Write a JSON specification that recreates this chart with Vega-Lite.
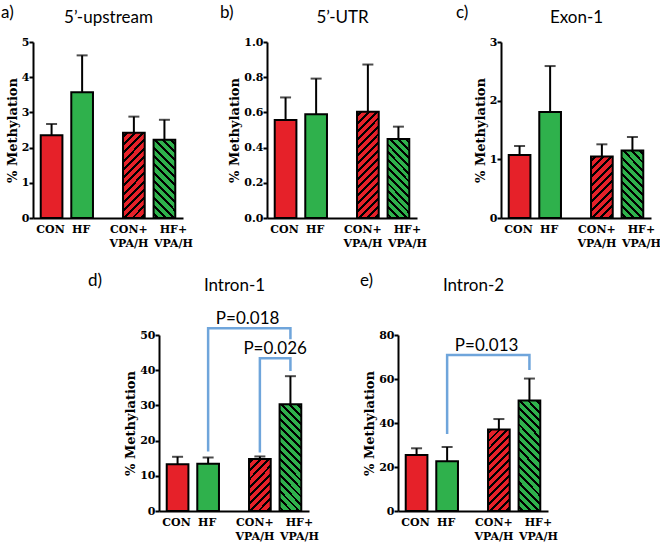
{
"$schema":"https://vega.github.io/schema/vega-lite/v6.json",
"padding":{"top":3,"left":1,"right":0,"bottom":0},
"config":{
 "view":{"stroke":null},
 "title":{"font":"Lato","fontSize":17,"fontWeight":"normal","color":"#000","anchor":"start","frame":"group"},
 "axis":{"grid":false,"domainColor":"#000","domainWidth":2,"tickColor":"#000","tickWidth":2,"tickSize":4,"labelFont":"DejaVu Serif","labelFontWeight":"bold","labelFontSize":11,"labelColor":"#000","labelPadding":0,"labelOverlap":false,"titleFont":"DejaVu Serif","titleFontWeight":"bold","titleFontSize":13,"titleColor":"#000","titlePadding":2}
},
"datasets":{
 "a":[{"treat":"none","diet":"CON","label":"CON","m":2.35,"u":2.67},{"treat":"none","diet":"HF","label":"HF","m":3.57,"u":4.62},{"treat":"VPA/H","diet":"CON","label":"CON+\nVPA/H","m":2.42,"u":2.88},{"treat":"VPA/H","diet":"HF","label":"HF+\nVPA/H","m":2.22,"u":2.79}],
 "b":[{"treat":"none","diet":"CON","label":"CON","m":0.557,"u":0.685},{"treat":"none","diet":"HF","label":"HF","m":0.589,"u":0.792},{"treat":"VPA/H","diet":"CON","label":"CON+\nVPA/H","m":0.604,"u":0.872},{"treat":"VPA/H","diet":"HF","label":"HF+\nVPA/H","m":0.449,"u":0.519}],
 "c":[{"treat":"none","diet":"CON","label":"CON","m":1.075,"u":1.228},{"treat":"none","diet":"HF","label":"HF","m":1.805,"u":2.59},{"treat":"VPA/H","diet":"CON","label":"CON+\nVPA/H","m":1.047,"u":1.256},{"treat":"VPA/H","diet":"HF","label":"HF+\nVPA/H","m":1.149,"u":1.381}],
 "d":[{"treat":"none","diet":"CON","label":"CON","m":13.3,"u":15.4},{"treat":"none","diet":"HF","label":"HF","m":13.4,"u":15.2},{"treat":"VPA/H","diet":"CON","label":"CON+\nVPA/H","m":14.8,"u":15.5},{"treat":"VPA/H","diet":"HF","label":"HF+\nVPA/H","m":30.3,"u":38.3}],
 "e":[{"treat":"none","diet":"CON","label":"CON","m":25.5,"u":28.5},{"treat":"none","diet":"HF","label":"HF","m":22.6,"u":29.1},{"treat":"VPA/H","diet":"CON","label":"CON+\nVPA/H","m":37.0,"u":41.8},{"treat":"VPA/H","diet":"HF","label":"HF+\nVPA/H","m":50.2,"u":60.2}],
 "dbr":[{"pair":"p1","treat":"none","diet":"HF","v":16.9,"o":1},{"pair":"p1","treat":"none","diet":"HF","v":51.9,"o":2},{"pair":"p1","treat":"VPA/H","diet":"HF","v":51.9,"o":3},{"pair":"p1","treat":"VPA/H","diet":"HF","v":48.8,"o":4},{"pair":"p2","treat":"VPA/H","diet":"CON","v":16.6,"o":1},{"pair":"p2","treat":"VPA/H","diet":"CON","v":43.4,"o":2},{"pair":"p2","treat":"VPA/H","diet":"HF","v":43.4,"o":3},{"pair":"p2","treat":"VPA/H","diet":"HF","v":39.8,"o":4}],
 "ebr":[{"pair":"p1","treat":"none","diet":"HF","v":35,"o":1},{"pair":"p1","treat":"none","diet":"HF","v":70.9,"o":2},{"pair":"p1","treat":"VPA/H","diet":"HF","v":70.9,"o":3},{"pair":"p1","treat":"VPA/H","diet":"HF","v":64.1,"o":4}],
 "dp":[{"p":"P=0.018","treat":"VPA/H","v":51.9,"span":"across"},{"p":"P=0.026","treat":"VPA/H","v":43.4,"span":"within"}],
 "ep":[{"p":"P=0.013","treat":"VPA/H","v":70.9,"span":"across"}]
},
"spacing":22,
"center":false,
"vconcat":[
{"hconcat":[
 {"title":{"text":"a)","dx":-32,"offset":-13.5},"width":150,"height":176,"data":{"name":"a"},"resolve":{"axis":{"x":"independent"}},
  "layer":[
  {"layer":[
   {"transform":[{"filter":"datum.treat=='none'"}],"mark":{"type":"bar","stroke":"#000","strokeWidth":2},
    "encoding":{"x":{"field":"treat","type":"nominal","scale":{"domain":["none","VPA/H"],"paddingInner":0.2575,"paddingOuter":0.04},"axis":{"orient":"bottom","title":null,"labels":false,"ticks":false}},
     "xOffset":{"field":"diet","type":"nominal","scale":{"domain":["CON","HF"],"paddingInner":0.29,"paddingOuter":0.145}},
     "y":{"field":"m","type":"quantitative","scale":{"domain":[0,5],"nice":false},"axis":{"title":"% Methylation","values":[0,1,2,3,4,5]}},
     "color":{"field":"diet","type":"nominal","scale":{"domain":["CON","HF"],"range":["#e62129","#2fb14c"]},"legend":null}}},
   {"transform":[{"filter":"datum.treat=='VPA/H' && datum.diet=='CON'"}],"mark":{"type":"bar","stroke":"#000","strokeWidth":2,"fill":{"gradient":"linear","x1":0,"y1":0,"x2":0.306,"y2":1.18,"stops":[
{"offset":0.025,"color":"#e62129"},{"offset":0.025,"color":"#000"},{"offset":0.052,"color":"#000"},{"offset":0.052,"color":"#e62129"},
{"offset":0.102,"color":"#e62129"},{"offset":0.102,"color":"#000"},{"offset":0.129,"color":"#000"},{"offset":0.129,"color":"#e62129"},
{"offset":0.178,"color":"#e62129"},{"offset":0.178,"color":"#000"},{"offset":0.206,"color":"#000"},{"offset":0.206,"color":"#e62129"},
{"offset":0.255,"color":"#e62129"},{"offset":0.255,"color":"#000"},{"offset":0.283,"color":"#000"},{"offset":0.283,"color":"#e62129"},
{"offset":0.332,"color":"#e62129"},{"offset":0.332,"color":"#000"},{"offset":0.36,"color":"#000"},{"offset":0.36,"color":"#e62129"},
{"offset":0.409,"color":"#e62129"},{"offset":0.409,"color":"#000"},{"offset":0.437,"color":"#000"},{"offset":0.437,"color":"#e62129"},
{"offset":0.486,"color":"#e62129"},{"offset":0.486,"color":"#000"},{"offset":0.514,"color":"#000"},{"offset":0.514,"color":"#e62129"},
{"offset":0.563,"color":"#e62129"},{"offset":0.563,"color":"#000"},{"offset":0.591,"color":"#000"},{"offset":0.591,"color":"#e62129"},
{"offset":0.64,"color":"#e62129"},{"offset":0.64,"color":"#000"},{"offset":0.668,"color":"#000"},{"offset":0.668,"color":"#e62129"},
{"offset":0.717,"color":"#e62129"},{"offset":0.717,"color":"#000"},{"offset":0.745,"color":"#000"},{"offset":0.745,"color":"#e62129"},
{"offset":0.794,"color":"#e62129"},{"offset":0.794,"color":"#000"},{"offset":0.822,"color":"#000"},{"offset":0.822,"color":"#e62129"},
{"offset":0.871,"color":"#e62129"},{"offset":0.871,"color":"#000"},{"offset":0.898,"color":"#000"},{"offset":0.898,"color":"#e62129"},
{"offset":0.948,"color":"#e62129"},{"offset":0.948,"color":"#000"},{"offset":0.975,"color":"#000"},{"offset":0.975,"color":"#e62129"}]}},
    "encoding":{"x":{"field":"treat","type":"nominal","axis":{"orient":"bottom","title":null,"labels":false,"ticks":false}},"xOffset":{"field":"diet","type":"nominal"},"y":{"field":"m","type":"quantitative","axis":{"title":"% Methylation","values":[0,1,2,3,4,5]}}}},
   {"transform":[{"filter":"datum.treat=='VPA/H' && datum.diet=='HF'"}],"mark":{"type":"bar","stroke":"#000","strokeWidth":2,"fill":{"gradient":"linear","x1":1,"y1":0,"x2":0.665,"y2":1.188,"stops":[
{"offset":0.027,"color":"#2fb14c"},{"offset":0.027,"color":"#000"},{"offset":0.057,"color":"#000"},{"offset":0.057,"color":"#2fb14c"},
{"offset":0.11,"color":"#2fb14c"},{"offset":0.11,"color":"#000"},{"offset":0.14,"color":"#000"},{"offset":0.14,"color":"#2fb14c"},
{"offset":0.193,"color":"#2fb14c"},{"offset":0.193,"color":"#000"},{"offset":0.223,"color":"#000"},{"offset":0.223,"color":"#2fb14c"},
{"offset":0.277,"color":"#2fb14c"},{"offset":0.277,"color":"#000"},{"offset":0.307,"color":"#000"},{"offset":0.307,"color":"#2fb14c"},
{"offset":0.36,"color":"#2fb14c"},{"offset":0.36,"color":"#000"},{"offset":0.39,"color":"#000"},{"offset":0.39,"color":"#2fb14c"},
{"offset":0.443,"color":"#2fb14c"},{"offset":0.443,"color":"#000"},{"offset":0.473,"color":"#000"},{"offset":0.473,"color":"#2fb14c"},
{"offset":0.527,"color":"#2fb14c"},{"offset":0.527,"color":"#000"},{"offset":0.557,"color":"#000"},{"offset":0.557,"color":"#2fb14c"},
{"offset":0.61,"color":"#2fb14c"},{"offset":0.61,"color":"#000"},{"offset":0.64,"color":"#000"},{"offset":0.64,"color":"#2fb14c"},
{"offset":0.693,"color":"#2fb14c"},{"offset":0.693,"color":"#000"},{"offset":0.723,"color":"#000"},{"offset":0.723,"color":"#2fb14c"},
{"offset":0.777,"color":"#2fb14c"},{"offset":0.777,"color":"#000"},{"offset":0.807,"color":"#000"},{"offset":0.807,"color":"#2fb14c"},
{"offset":0.86,"color":"#2fb14c"},{"offset":0.86,"color":"#000"},{"offset":0.89,"color":"#000"},{"offset":0.89,"color":"#2fb14c"},
{"offset":0.943,"color":"#2fb14c"},{"offset":0.943,"color":"#000"},{"offset":0.973,"color":"#000"},{"offset":0.973,"color":"#2fb14c"}]}},
    "encoding":{"x":{"field":"treat","type":"nominal","axis":{"orient":"bottom","title":null,"labels":false,"ticks":false}},"xOffset":{"field":"diet","type":"nominal"},"y":{"field":"m","type":"quantitative","axis":{"title":"% Methylation","values":[0,1,2,3,4,5]}}}},
   {"mark":{"type":"rule","strokeWidth":2,"color":"#000"},"encoding":{"x":{"field":"treat","type":"nominal","axis":{"orient":"bottom","title":null,"labels":false,"ticks":false}},"xOffset":{"field":"diet","type":"nominal"},"y":{"field":"m","type":"quantitative","axis":{"title":"% Methylation","values":[0,1,2,3,4,5]}},"y2":{"field":"u"}}},
   {"mark":{"type":"tick","thickness":2,"size":11,"color":"#000"},"encoding":{"x":{"field":"treat","type":"nominal","axis":{"orient":"bottom","title":null,"labels":false,"ticks":false}},"xOffset":{"field":"diet","type":"nominal"},"y":{"field":"u","type":"quantitative","axis":{"title":"% Methylation","values":[0,1,2,3,4,5]}}}},
   {"transform":[{"filter":"datum.treat=='none'"}],"mark":{"type":"text","baseline":"top","dy":6,"dx":-1,"lineBreak":"\n","font":"DejaVu Serif","fontWeight":"bold","fontSize":11,"lineHeight":14,"color":"#000"},
    "encoding":{"x":{"field":"treat","type":"nominal","axis":{"orient":"bottom","title":null,"labels":false,"ticks":false}},"xOffset":{"field":"diet","type":"nominal"},"y":{"datum":0,"type":"quantitative","axis":{"title":"% Methylation","values":[0,1,2,3,4,5]}},"text":{"field":"label"}}},
   {"transform":[{"filter":"datum.treat=='VPA/H' && datum.diet=='CON'"}],"mark":{"type":"text","baseline":"top","dy":6,"dx":-5,"lineBreak":"\n","font":"DejaVu Serif","fontWeight":"bold","fontSize":11,"lineHeight":14,"color":"#000"},
    "encoding":{"x":{"field":"treat","type":"nominal","axis":{"orient":"bottom","title":null,"labels":false,"ticks":false}},"xOffset":{"field":"diet","type":"nominal"},"y":{"datum":0,"type":"quantitative","axis":{"title":"% Methylation","values":[0,1,2,3,4,5]}},"text":{"field":"label"}}},
   {"transform":[{"filter":"datum.treat=='VPA/H' && datum.diet=='HF'"}],"mark":{"type":"text","baseline":"top","dy":6,"dx":9,"lineBreak":"\n","font":"DejaVu Serif","fontWeight":"bold","fontSize":11,"lineHeight":14,"color":"#000"},
    "encoding":{"x":{"field":"treat","type":"nominal","axis":{"orient":"bottom","title":null,"labels":false,"ticks":false}},"xOffset":{"field":"diet","type":"nominal"},"y":{"datum":0,"type":"quantitative","axis":{"title":"% Methylation","values":[0,1,2,3,4,5]}},"text":{"field":"label"}}}
  ]},
  {"mark":{"type":"text","opacity":0},"encoding":{"x":{"field":"treat","type":"nominal","axis":{"orient":"top","title":"5’-upstream","labels":false,"ticks":false,"domain":false,"titlePadding":16,"titleFont":"Lato","titleFontSize":17,"titleFontWeight":"normal"}},"text":{"value":""}}}
  ]},
 {"title":{"text":"b)","dx":-47,"offset":-13.5},"width":150,"height":176,"data":{"name":"b"},"resolve":{"axis":{"x":"independent"}},
  "layer":[
  {"layer":[
   {"transform":[{"filter":"datum.treat=='none'"}],"mark":{"type":"bar","stroke":"#000","strokeWidth":2},
    "encoding":{"x":{"field":"treat","type":"nominal","scale":{"domain":["none","VPA/H"],"paddingInner":0.2575,"paddingOuter":0.04},"axis":{"orient":"bottom","title":null,"labels":false,"ticks":false}},
     "xOffset":{"field":"diet","type":"nominal","scale":{"domain":["CON","HF"],"paddingInner":0.29,"paddingOuter":0.145}},
     "y":{"field":"m","type":"quantitative","scale":{"domain":[0,1],"nice":false},"axis":{"title":"% Methylation","values":[0,0.2,0.4,0.6,0.8,1],"format":".1f"}},
     "color":{"field":"diet","type":"nominal","scale":{"domain":["CON","HF"],"range":["#e62129","#2fb14c"]},"legend":null}}},
   {"transform":[{"filter":"datum.treat=='VPA/H' && datum.diet=='CON'"}],"mark":{"type":"bar","stroke":"#000","strokeWidth":2,"fill":{"gradient":"linear","x1":0,"y1":0,"x2":0.239,"y2":1.157,"stops":[
{"offset":0.02,"color":"#e62129"},{"offset":0.02,"color":"#000"},{"offset":0.043,"color":"#000"},{"offset":0.043,"color":"#e62129"},
{"offset":0.083,"color":"#e62129"},{"offset":0.083,"color":"#000"},{"offset":0.105,"color":"#000"},{"offset":0.105,"color":"#e62129"},
{"offset":0.145,"color":"#e62129"},{"offset":0.145,"color":"#000"},{"offset":0.168,"color":"#000"},{"offset":0.168,"color":"#e62129"},
{"offset":0.208,"color":"#e62129"},{"offset":0.208,"color":"#000"},{"offset":0.23,"color":"#000"},{"offset":0.23,"color":"#e62129"},
{"offset":0.27,"color":"#e62129"},{"offset":0.27,"color":"#000"},{"offset":0.293,"color":"#000"},{"offset":0.293,"color":"#e62129"},
{"offset":0.333,"color":"#e62129"},{"offset":0.333,"color":"#000"},{"offset":0.355,"color":"#000"},{"offset":0.355,"color":"#e62129"},
{"offset":0.395,"color":"#e62129"},{"offset":0.395,"color":"#000"},{"offset":0.418,"color":"#000"},{"offset":0.418,"color":"#e62129"},
{"offset":0.458,"color":"#e62129"},{"offset":0.458,"color":"#000"},{"offset":0.48,"color":"#000"},{"offset":0.48,"color":"#e62129"},
{"offset":0.52,"color":"#e62129"},{"offset":0.52,"color":"#000"},{"offset":0.543,"color":"#000"},{"offset":0.543,"color":"#e62129"},
{"offset":0.583,"color":"#e62129"},{"offset":0.583,"color":"#000"},{"offset":0.605,"color":"#000"},{"offset":0.605,"color":"#e62129"},
{"offset":0.645,"color":"#e62129"},{"offset":0.645,"color":"#000"},{"offset":0.668,"color":"#000"},{"offset":0.668,"color":"#e62129"},
{"offset":0.708,"color":"#e62129"},{"offset":0.708,"color":"#000"},{"offset":0.73,"color":"#000"},{"offset":0.73,"color":"#e62129"},
{"offset":0.77,"color":"#e62129"},{"offset":0.77,"color":"#000"},{"offset":0.793,"color":"#000"},{"offset":0.793,"color":"#e62129"},
{"offset":0.833,"color":"#e62129"},{"offset":0.833,"color":"#000"},{"offset":0.855,"color":"#000"},{"offset":0.855,"color":"#e62129"},
{"offset":0.895,"color":"#e62129"},{"offset":0.895,"color":"#000"},{"offset":0.918,"color":"#000"},{"offset":0.918,"color":"#e62129"},
{"offset":0.958,"color":"#e62129"},{"offset":0.958,"color":"#000"},{"offset":0.98,"color":"#000"},{"offset":0.98,"color":"#e62129"}]}},
    "encoding":{"x":{"field":"treat","type":"nominal","axis":{"orient":"bottom","title":null,"labels":false,"ticks":false}},"xOffset":{"field":"diet","type":"nominal"},"y":{"field":"m","type":"quantitative","axis":{"title":"% Methylation","values":[0,0.2,0.4,0.6,0.8,1],"format":".1f"}}}},
   {"transform":[{"filter":"datum.treat=='VPA/H' && datum.diet=='HF'"}],"mark":{"type":"bar","stroke":"#000","strokeWidth":2,"fill":{"gradient":"linear","x1":1,"y1":0,"x2":0.668,"y2":1.187,"stops":[
{"offset":0.025,"color":"#2fb14c"},{"offset":0.025,"color":"#000"},{"offset":0.052,"color":"#000"},{"offset":0.052,"color":"#2fb14c"},
{"offset":0.102,"color":"#2fb14c"},{"offset":0.102,"color":"#000"},{"offset":0.129,"color":"#000"},{"offset":0.129,"color":"#2fb14c"},
{"offset":0.178,"color":"#2fb14c"},{"offset":0.178,"color":"#000"},{"offset":0.206,"color":"#000"},{"offset":0.206,"color":"#2fb14c"},
{"offset":0.255,"color":"#2fb14c"},{"offset":0.255,"color":"#000"},{"offset":0.283,"color":"#000"},{"offset":0.283,"color":"#2fb14c"},
{"offset":0.332,"color":"#2fb14c"},{"offset":0.332,"color":"#000"},{"offset":0.36,"color":"#000"},{"offset":0.36,"color":"#2fb14c"},
{"offset":0.409,"color":"#2fb14c"},{"offset":0.409,"color":"#000"},{"offset":0.437,"color":"#000"},{"offset":0.437,"color":"#2fb14c"},
{"offset":0.486,"color":"#2fb14c"},{"offset":0.486,"color":"#000"},{"offset":0.514,"color":"#000"},{"offset":0.514,"color":"#2fb14c"},
{"offset":0.563,"color":"#2fb14c"},{"offset":0.563,"color":"#000"},{"offset":0.591,"color":"#000"},{"offset":0.591,"color":"#2fb14c"},
{"offset":0.64,"color":"#2fb14c"},{"offset":0.64,"color":"#000"},{"offset":0.668,"color":"#000"},{"offset":0.668,"color":"#2fb14c"},
{"offset":0.717,"color":"#2fb14c"},{"offset":0.717,"color":"#000"},{"offset":0.745,"color":"#000"},{"offset":0.745,"color":"#2fb14c"},
{"offset":0.794,"color":"#2fb14c"},{"offset":0.794,"color":"#000"},{"offset":0.822,"color":"#000"},{"offset":0.822,"color":"#2fb14c"},
{"offset":0.871,"color":"#2fb14c"},{"offset":0.871,"color":"#000"},{"offset":0.898,"color":"#000"},{"offset":0.898,"color":"#2fb14c"},
{"offset":0.948,"color":"#2fb14c"},{"offset":0.948,"color":"#000"},{"offset":0.975,"color":"#000"},{"offset":0.975,"color":"#2fb14c"}]}},
    "encoding":{"x":{"field":"treat","type":"nominal","axis":{"orient":"bottom","title":null,"labels":false,"ticks":false}},"xOffset":{"field":"diet","type":"nominal"},"y":{"field":"m","type":"quantitative","axis":{"title":"% Methylation","values":[0,0.2,0.4,0.6,0.8,1],"format":".1f"}}}},
   {"mark":{"type":"rule","strokeWidth":2,"color":"#000"},"encoding":{"x":{"field":"treat","type":"nominal","axis":{"orient":"bottom","title":null,"labels":false,"ticks":false}},"xOffset":{"field":"diet","type":"nominal"},"y":{"field":"m","type":"quantitative","axis":{"title":"% Methylation","values":[0,0.2,0.4,0.6,0.8,1],"format":".1f"}},"y2":{"field":"u"}}},
   {"mark":{"type":"tick","thickness":2,"size":11,"color":"#000"},"encoding":{"x":{"field":"treat","type":"nominal","axis":{"orient":"bottom","title":null,"labels":false,"ticks":false}},"xOffset":{"field":"diet","type":"nominal"},"y":{"field":"u","type":"quantitative","axis":{"title":"% Methylation","values":[0,0.2,0.4,0.6,0.8,1],"format":".1f"}}}},
   {"transform":[{"filter":"datum.treat=='none'"}],"mark":{"type":"text","baseline":"top","dy":6,"dx":-1,"lineBreak":"\n","font":"DejaVu Serif","fontWeight":"bold","fontSize":11,"lineHeight":14,"color":"#000"},
    "encoding":{"x":{"field":"treat","type":"nominal","axis":{"orient":"bottom","title":null,"labels":false,"ticks":false}},"xOffset":{"field":"diet","type":"nominal"},"y":{"datum":0,"type":"quantitative","axis":{"title":"% Methylation","values":[0,0.2,0.4,0.6,0.8,1],"format":".1f"}},"text":{"field":"label"}}},
   {"transform":[{"filter":"datum.treat=='VPA/H' && datum.diet=='CON'"}],"mark":{"type":"text","baseline":"top","dy":6,"dx":-5,"lineBreak":"\n","font":"DejaVu Serif","fontWeight":"bold","fontSize":11,"lineHeight":14,"color":"#000"},
    "encoding":{"x":{"field":"treat","type":"nominal","axis":{"orient":"bottom","title":null,"labels":false,"ticks":false}},"xOffset":{"field":"diet","type":"nominal"},"y":{"datum":0,"type":"quantitative","axis":{"title":"% Methylation","values":[0,0.2,0.4,0.6,0.8,1],"format":".1f"}},"text":{"field":"label"}}},
   {"transform":[{"filter":"datum.treat=='VPA/H' && datum.diet=='HF'"}],"mark":{"type":"text","baseline":"top","dy":6,"dx":9,"lineBreak":"\n","font":"DejaVu Serif","fontWeight":"bold","fontSize":11,"lineHeight":14,"color":"#000"},
    "encoding":{"x":{"field":"treat","type":"nominal","axis":{"orient":"bottom","title":null,"labels":false,"ticks":false}},"xOffset":{"field":"diet","type":"nominal"},"y":{"datum":0,"type":"quantitative","axis":{"title":"% Methylation","values":[0,0.2,0.4,0.6,0.8,1],"format":".1f"}},"text":{"field":"label"}}}
  ]},
  {"mark":{"type":"text","opacity":0},"encoding":{"x":{"field":"treat","type":"nominal","axis":{"orient":"top","title":"5’-UTR","labels":false,"ticks":false,"domain":false,"titlePadding":16,"titleFont":"Lato","titleFontSize":17,"titleFontWeight":"normal"}},"text":{"value":""}}}
  ]},
 {"title":{"text":"c)","dx":-45,"offset":-13.5},"width":150,"height":176,"data":{"name":"c"},"resolve":{"axis":{"x":"independent"}},
  "layer":[
  {"layer":[
   {"transform":[{"filter":"datum.treat=='none'"}],"mark":{"type":"bar","stroke":"#000","strokeWidth":2},
    "encoding":{"x":{"field":"treat","type":"nominal","scale":{"domain":["none","VPA/H"],"paddingInner":0.2575,"paddingOuter":0.04},"axis":{"orient":"bottom","title":null,"labels":false,"ticks":false}},
     "xOffset":{"field":"diet","type":"nominal","scale":{"domain":["CON","HF"],"paddingInner":0.29,"paddingOuter":0.145}},
     "y":{"field":"m","type":"quantitative","scale":{"domain":[0,3],"nice":false},"axis":{"title":"% Methylation","values":[0,1,2,3]}},
     "color":{"field":"diet","type":"nominal","scale":{"domain":["CON","HF"],"range":["#e62129","#2fb14c"]},"legend":null}}},
   {"transform":[{"filter":"datum.treat=='VPA/H' && datum.diet=='CON'"}],"mark":{"type":"bar","stroke":"#000","strokeWidth":2,"fill":{"gradient":"linear","x1":0,"y1":0,"x2":0.43,"y2":1.204,"stops":[
{"offset":0.032,"color":"#e62129"},{"offset":0.032,"color":"#000"},{"offset":0.068,"color":"#000"},{"offset":0.068,"color":"#e62129"},
{"offset":0.132,"color":"#e62129"},{"offset":0.132,"color":"#000"},{"offset":0.168,"color":"#000"},{"offset":0.168,"color":"#e62129"},
{"offset":0.232,"color":"#e62129"},{"offset":0.232,"color":"#000"},{"offset":0.268,"color":"#000"},{"offset":0.268,"color":"#e62129"},
{"offset":0.332,"color":"#e62129"},{"offset":0.332,"color":"#000"},{"offset":0.368,"color":"#000"},{"offset":0.368,"color":"#e62129"},
{"offset":0.432,"color":"#e62129"},{"offset":0.432,"color":"#000"},{"offset":0.468,"color":"#000"},{"offset":0.468,"color":"#e62129"},
{"offset":0.532,"color":"#e62129"},{"offset":0.532,"color":"#000"},{"offset":0.568,"color":"#000"},{"offset":0.568,"color":"#e62129"},
{"offset":0.632,"color":"#e62129"},{"offset":0.632,"color":"#000"},{"offset":0.668,"color":"#000"},{"offset":0.668,"color":"#e62129"},
{"offset":0.732,"color":"#e62129"},{"offset":0.732,"color":"#000"},{"offset":0.768,"color":"#000"},{"offset":0.768,"color":"#e62129"},
{"offset":0.832,"color":"#e62129"},{"offset":0.832,"color":"#000"},{"offset":0.868,"color":"#000"},{"offset":0.868,"color":"#e62129"},
{"offset":0.932,"color":"#e62129"},{"offset":0.932,"color":"#000"},{"offset":0.968,"color":"#000"},{"offset":0.968,"color":"#e62129"}]}},
    "encoding":{"x":{"field":"treat","type":"nominal","axis":{"orient":"bottom","title":null,"labels":false,"ticks":false}},"xOffset":{"field":"diet","type":"nominal"},"y":{"field":"m","type":"quantitative","axis":{"title":"% Methylation","values":[0,1,2,3]}}}},
   {"transform":[{"filter":"datum.treat=='VPA/H' && datum.diet=='HF'"}],"mark":{"type":"bar","stroke":"#000","strokeWidth":2,"fill":{"gradient":"linear","x1":1,"y1":0,"x2":0.609,"y2":1.199,"stops":[
{"offset":0.029,"color":"#2fb14c"},{"offset":0.029,"color":"#000"},{"offset":0.062,"color":"#000"},{"offset":0.062,"color":"#2fb14c"},
{"offset":0.12,"color":"#2fb14c"},{"offset":0.12,"color":"#000"},{"offset":0.153,"color":"#000"},{"offset":0.153,"color":"#2fb14c"},
{"offset":0.211,"color":"#2fb14c"},{"offset":0.211,"color":"#000"},{"offset":0.244,"color":"#000"},{"offset":0.244,"color":"#2fb14c"},
{"offset":0.302,"color":"#2fb14c"},{"offset":0.302,"color":"#000"},{"offset":0.335,"color":"#000"},{"offset":0.335,"color":"#2fb14c"},
{"offset":0.393,"color":"#2fb14c"},{"offset":0.393,"color":"#000"},{"offset":0.425,"color":"#000"},{"offset":0.425,"color":"#2fb14c"},
{"offset":0.484,"color":"#2fb14c"},{"offset":0.484,"color":"#000"},{"offset":0.516,"color":"#000"},{"offset":0.516,"color":"#2fb14c"},
{"offset":0.575,"color":"#2fb14c"},{"offset":0.575,"color":"#000"},{"offset":0.607,"color":"#000"},{"offset":0.607,"color":"#2fb14c"},
{"offset":0.665,"color":"#2fb14c"},{"offset":0.665,"color":"#000"},{"offset":0.698,"color":"#000"},{"offset":0.698,"color":"#2fb14c"},
{"offset":0.756,"color":"#2fb14c"},{"offset":0.756,"color":"#000"},{"offset":0.789,"color":"#000"},{"offset":0.789,"color":"#2fb14c"},
{"offset":0.847,"color":"#2fb14c"},{"offset":0.847,"color":"#000"},{"offset":0.88,"color":"#000"},{"offset":0.88,"color":"#2fb14c"},
{"offset":0.938,"color":"#2fb14c"},{"offset":0.938,"color":"#000"},{"offset":0.971,"color":"#000"},{"offset":0.971,"color":"#2fb14c"}]}},
    "encoding":{"x":{"field":"treat","type":"nominal","axis":{"orient":"bottom","title":null,"labels":false,"ticks":false}},"xOffset":{"field":"diet","type":"nominal"},"y":{"field":"m","type":"quantitative","axis":{"title":"% Methylation","values":[0,1,2,3]}}}},
   {"mark":{"type":"rule","strokeWidth":2,"color":"#000"},"encoding":{"x":{"field":"treat","type":"nominal","axis":{"orient":"bottom","title":null,"labels":false,"ticks":false}},"xOffset":{"field":"diet","type":"nominal"},"y":{"field":"m","type":"quantitative","axis":{"title":"% Methylation","values":[0,1,2,3]}},"y2":{"field":"u"}}},
   {"mark":{"type":"tick","thickness":2,"size":11,"color":"#000"},"encoding":{"x":{"field":"treat","type":"nominal","axis":{"orient":"bottom","title":null,"labels":false,"ticks":false}},"xOffset":{"field":"diet","type":"nominal"},"y":{"field":"u","type":"quantitative","axis":{"title":"% Methylation","values":[0,1,2,3]}}}},
   {"transform":[{"filter":"datum.treat=='none'"}],"mark":{"type":"text","baseline":"top","dy":6,"dx":-1,"lineBreak":"\n","font":"DejaVu Serif","fontWeight":"bold","fontSize":11,"lineHeight":14,"color":"#000"},
    "encoding":{"x":{"field":"treat","type":"nominal","axis":{"orient":"bottom","title":null,"labels":false,"ticks":false}},"xOffset":{"field":"diet","type":"nominal"},"y":{"datum":0,"type":"quantitative","axis":{"title":"% Methylation","values":[0,1,2,3]}},"text":{"field":"label"}}},
   {"transform":[{"filter":"datum.treat=='VPA/H' && datum.diet=='CON'"}],"mark":{"type":"text","baseline":"top","dy":6,"dx":-5,"lineBreak":"\n","font":"DejaVu Serif","fontWeight":"bold","fontSize":11,"lineHeight":14,"color":"#000"},
    "encoding":{"x":{"field":"treat","type":"nominal","axis":{"orient":"bottom","title":null,"labels":false,"ticks":false}},"xOffset":{"field":"diet","type":"nominal"},"y":{"datum":0,"type":"quantitative","axis":{"title":"% Methylation","values":[0,1,2,3]}},"text":{"field":"label"}}},
   {"transform":[{"filter":"datum.treat=='VPA/H' && datum.diet=='HF'"}],"mark":{"type":"text","baseline":"top","dy":6,"dx":9,"lineBreak":"\n","font":"DejaVu Serif","fontWeight":"bold","fontSize":11,"lineHeight":14,"color":"#000"},
    "encoding":{"x":{"field":"treat","type":"nominal","axis":{"orient":"bottom","title":null,"labels":false,"ticks":false}},"xOffset":{"field":"diet","type":"nominal"},"y":{"datum":0,"type":"quantitative","axis":{"title":"% Methylation","values":[0,1,2,3]}},"text":{"field":"label"}}}
  ]},
  {"mark":{"type":"text","opacity":0},"encoding":{"x":{"field":"treat","type":"nominal","axis":{"orient":"top","title":"Exon-1","labels":false,"ticks":false,"domain":false,"titlePadding":16,"titleFont":"Lato","titleFontSize":17,"titleFontWeight":"normal"}},"text":{"value":""}}}
  ]}
],"spacing":84,"bounds":"flush"},
{"hconcat":[
 {"width":37,"height":176,"data":{"values":[{"k":"s"}]},"mark":{"type":"bar","opacity":0},"encoding":{"x":{"field":"k","type":"nominal","axis":null,"scale":{"paddingInner":0,"paddingOuter":0}}}},
 {"title":{"text":"d)","dx":-71,"offset":-13.5},"width":150,"height":176,"data":{"name":"d"},"resolve":{"axis":{"x":"independent"}},
  "layer":[
  {"layer":[
   {"transform":[{"filter":"datum.treat=='none'"}],"mark":{"type":"bar","stroke":"#000","strokeWidth":2},
    "encoding":{"x":{"field":"treat","type":"nominal","scale":{"domain":["none","VPA/H"],"paddingInner":0.2575,"paddingOuter":0.04},"axis":{"orient":"bottom","title":null,"labels":false,"ticks":false}},
     "xOffset":{"field":"diet","type":"nominal","scale":{"domain":["CON","HF"],"paddingInner":0.29,"paddingOuter":0.145}},
     "y":{"field":"m","type":"quantitative","scale":{"domain":[0,50],"nice":false},"axis":{"title":"% Methylation","values":[0,10,20,30,40,50]}},
     "color":{"field":"diet","type":"nominal","scale":{"domain":["CON","HF"],"range":["#e62129","#2fb14c"]},"legend":null}}},
   {"transform":[{"filter":"datum.treat=='VPA/H' && datum.diet=='CON'"}],"mark":{"type":"bar","stroke":"#000","strokeWidth":2,"fill":{"gradient":"linear","x1":0,"y1":0,"x2":0.511,"y2":1.207,"stops":[
{"offset":0.036,"color":"#e62129"},{"offset":0.036,"color":"#000"},{"offset":0.076,"color":"#000"},{"offset":0.076,"color":"#e62129"},
{"offset":0.147,"color":"#e62129"},{"offset":0.147,"color":"#000"},{"offset":0.187,"color":"#000"},{"offset":0.187,"color":"#e62129"},
{"offset":0.258,"color":"#e62129"},{"offset":0.258,"color":"#000"},{"offset":0.298,"color":"#000"},{"offset":0.298,"color":"#e62129"},
{"offset":0.369,"color":"#e62129"},{"offset":0.369,"color":"#000"},{"offset":0.409,"color":"#000"},{"offset":0.409,"color":"#e62129"},
{"offset":0.48,"color":"#e62129"},{"offset":0.48,"color":"#000"},{"offset":0.52,"color":"#000"},{"offset":0.52,"color":"#e62129"},
{"offset":0.591,"color":"#e62129"},{"offset":0.591,"color":"#000"},{"offset":0.631,"color":"#000"},{"offset":0.631,"color":"#e62129"},
{"offset":0.702,"color":"#e62129"},{"offset":0.702,"color":"#000"},{"offset":0.742,"color":"#000"},{"offset":0.742,"color":"#e62129"},
{"offset":0.813,"color":"#e62129"},{"offset":0.813,"color":"#000"},{"offset":0.853,"color":"#000"},{"offset":0.853,"color":"#e62129"},
{"offset":0.924,"color":"#e62129"},{"offset":0.924,"color":"#000"},{"offset":0.964,"color":"#000"},{"offset":0.964,"color":"#e62129"}]}},
    "encoding":{"x":{"field":"treat","type":"nominal","axis":{"orient":"bottom","title":null,"labels":false,"ticks":false}},"xOffset":{"field":"diet","type":"nominal"},"y":{"field":"m","type":"quantitative","axis":{"title":"% Methylation","values":[0,10,20,30,40,50]}}}},
   {"transform":[{"filter":"datum.treat=='VPA/H' && datum.diet=='HF'"}],"mark":{"type":"bar","stroke":"#000","strokeWidth":2,"fill":{"gradient":"linear","x1":1,"y1":0,"x2":0.761,"y2":1.157,"stops":[
{"offset":0.02,"color":"#2fb14c"},{"offset":0.02,"color":"#000"},{"offset":0.043,"color":"#000"},{"offset":0.043,"color":"#2fb14c"},
{"offset":0.083,"color":"#2fb14c"},{"offset":0.083,"color":"#000"},{"offset":0.105,"color":"#000"},{"offset":0.105,"color":"#2fb14c"},
{"offset":0.145,"color":"#2fb14c"},{"offset":0.145,"color":"#000"},{"offset":0.168,"color":"#000"},{"offset":0.168,"color":"#2fb14c"},
{"offset":0.208,"color":"#2fb14c"},{"offset":0.208,"color":"#000"},{"offset":0.23,"color":"#000"},{"offset":0.23,"color":"#2fb14c"},
{"offset":0.27,"color":"#2fb14c"},{"offset":0.27,"color":"#000"},{"offset":0.293,"color":"#000"},{"offset":0.293,"color":"#2fb14c"},
{"offset":0.333,"color":"#2fb14c"},{"offset":0.333,"color":"#000"},{"offset":0.355,"color":"#000"},{"offset":0.355,"color":"#2fb14c"},
{"offset":0.395,"color":"#2fb14c"},{"offset":0.395,"color":"#000"},{"offset":0.418,"color":"#000"},{"offset":0.418,"color":"#2fb14c"},
{"offset":0.458,"color":"#2fb14c"},{"offset":0.458,"color":"#000"},{"offset":0.48,"color":"#000"},{"offset":0.48,"color":"#2fb14c"},
{"offset":0.52,"color":"#2fb14c"},{"offset":0.52,"color":"#000"},{"offset":0.543,"color":"#000"},{"offset":0.543,"color":"#2fb14c"},
{"offset":0.583,"color":"#2fb14c"},{"offset":0.583,"color":"#000"},{"offset":0.605,"color":"#000"},{"offset":0.605,"color":"#2fb14c"},
{"offset":0.645,"color":"#2fb14c"},{"offset":0.645,"color":"#000"},{"offset":0.668,"color":"#000"},{"offset":0.668,"color":"#2fb14c"},
{"offset":0.708,"color":"#2fb14c"},{"offset":0.708,"color":"#000"},{"offset":0.73,"color":"#000"},{"offset":0.73,"color":"#2fb14c"},
{"offset":0.77,"color":"#2fb14c"},{"offset":0.77,"color":"#000"},{"offset":0.793,"color":"#000"},{"offset":0.793,"color":"#2fb14c"},
{"offset":0.833,"color":"#2fb14c"},{"offset":0.833,"color":"#000"},{"offset":0.855,"color":"#000"},{"offset":0.855,"color":"#2fb14c"},
{"offset":0.895,"color":"#2fb14c"},{"offset":0.895,"color":"#000"},{"offset":0.918,"color":"#000"},{"offset":0.918,"color":"#2fb14c"},
{"offset":0.958,"color":"#2fb14c"},{"offset":0.958,"color":"#000"},{"offset":0.98,"color":"#000"},{"offset":0.98,"color":"#2fb14c"}]}},
    "encoding":{"x":{"field":"treat","type":"nominal","axis":{"orient":"bottom","title":null,"labels":false,"ticks":false}},"xOffset":{"field":"diet","type":"nominal"},"y":{"field":"m","type":"quantitative","axis":{"title":"% Methylation","values":[0,10,20,30,40,50]}}}},
   {"mark":{"type":"rule","strokeWidth":2,"color":"#000"},"encoding":{"x":{"field":"treat","type":"nominal","axis":{"orient":"bottom","title":null,"labels":false,"ticks":false}},"xOffset":{"field":"diet","type":"nominal"},"y":{"field":"m","type":"quantitative","axis":{"title":"% Methylation","values":[0,10,20,30,40,50]}},"y2":{"field":"u"}}},
   {"mark":{"type":"tick","thickness":2,"size":11,"color":"#000"},"encoding":{"x":{"field":"treat","type":"nominal","axis":{"orient":"bottom","title":null,"labels":false,"ticks":false}},"xOffset":{"field":"diet","type":"nominal"},"y":{"field":"u","type":"quantitative","axis":{"title":"% Methylation","values":[0,10,20,30,40,50]}}}},
   {"transform":[{"filter":"datum.treat=='none'"}],"mark":{"type":"text","baseline":"top","dy":6,"dx":-1,"lineBreak":"\n","font":"DejaVu Serif","fontWeight":"bold","fontSize":11,"lineHeight":14,"color":"#000"},
    "encoding":{"x":{"field":"treat","type":"nominal","axis":{"orient":"bottom","title":null,"labels":false,"ticks":false}},"xOffset":{"field":"diet","type":"nominal"},"y":{"datum":0,"type":"quantitative","axis":{"title":"% Methylation","values":[0,10,20,30,40,50]}},"text":{"field":"label"}}},
   {"transform":[{"filter":"datum.treat=='VPA/H' && datum.diet=='CON'"}],"mark":{"type":"text","baseline":"top","dy":6,"dx":-5,"lineBreak":"\n","font":"DejaVu Serif","fontWeight":"bold","fontSize":11,"lineHeight":14,"color":"#000"},
    "encoding":{"x":{"field":"treat","type":"nominal","axis":{"orient":"bottom","title":null,"labels":false,"ticks":false}},"xOffset":{"field":"diet","type":"nominal"},"y":{"datum":0,"type":"quantitative","axis":{"title":"% Methylation","values":[0,10,20,30,40,50]}},"text":{"field":"label"}}},
   {"transform":[{"filter":"datum.treat=='VPA/H' && datum.diet=='HF'"}],"mark":{"type":"text","baseline":"top","dy":6,"dx":9,"lineBreak":"\n","font":"DejaVu Serif","fontWeight":"bold","fontSize":11,"lineHeight":14,"color":"#000"},
    "encoding":{"x":{"field":"treat","type":"nominal","axis":{"orient":"bottom","title":null,"labels":false,"ticks":false}},"xOffset":{"field":"diet","type":"nominal"},"y":{"datum":0,"type":"quantitative","axis":{"title":"% Methylation","values":[0,10,20,30,40,50]}},"text":{"field":"label"}}},
   {"data":{"name":"dbr"},"mark":{"type":"line","color":"#6fa5db","strokeWidth":2.5},"encoding":{"x":{"field":"treat","type":"nominal","axis":{"orient":"bottom","title":null,"labels":false,"ticks":false}},"xOffset":{"field":"diet","type":"nominal"},"y":{"field":"v","type":"quantitative","axis":{"title":"% Methylation","values":[0,10,20,30,40,50]}},"detail":{"field":"pair"},"order":{"field":"o"}}},
   {"data":{"name":"dp"},"transform":[{"filter":"datum.span=='across'"}],"mark":{"type":"text","baseline":"bottom","font":"Lato","fontSize":17,"dx":3,"color":"#000"},"encoding":{"x":{"field":"treat","type":"nominal","bandPosition":0,"axis":{"orient":"bottom","title":null,"labels":false,"ticks":false}},"y":{"field":"v","type":"quantitative","axis":{"title":"% Methylation","values":[0,10,20,30,40,50]}},"text":{"field":"p"}}},
   {"data":{"name":"dp"},"transform":[{"filter":"datum.span=='within'"}],"mark":{"type":"text","baseline":"bottom","font":"Lato","fontSize":17,"color":"#000"},"encoding":{"x":{"field":"treat","type":"nominal","bandPosition":0.5,"axis":{"orient":"bottom","title":null,"labels":false,"ticks":false}},"y":{"field":"v","type":"quantitative","axis":{"title":"% Methylation","values":[0,10,20,30,40,50]}},"text":{"field":"p"}}}
  ]},
  {"mark":{"type":"text","opacity":0},"encoding":{"x":{"field":"treat","type":"nominal","axis":{"orient":"top","title":"Intron-1","labels":false,"ticks":false,"domain":false,"titlePadding":41,"titleFont":"Lato","titleFontSize":17,"titleFontWeight":"normal"}},"text":{"value":""}}}
  ]},
 {"title":{"text":"e)","dx":-38,"offset":-13.5},"width":150,"height":176,"data":{"name":"e"},"resolve":{"axis":{"x":"independent"}},
  "layer":[
  {"layer":[
   {"transform":[{"filter":"datum.treat=='none'"}],"mark":{"type":"bar","stroke":"#000","strokeWidth":2},
    "encoding":{"x":{"field":"treat","type":"nominal","scale":{"domain":["none","VPA/H"],"paddingInner":0.2575,"paddingOuter":0.04},"axis":{"orient":"bottom","title":null,"labels":false,"ticks":false}},
     "xOffset":{"field":"diet","type":"nominal","scale":{"domain":["CON","HF"],"paddingInner":0.29,"paddingOuter":0.145}},
     "y":{"field":"m","type":"quantitative","scale":{"domain":[0,80],"nice":false},"axis":{"title":"% Methylation","values":[0,20,40,60,80]}},
     "color":{"field":"diet","type":"nominal","scale":{"domain":["CON","HF"],"range":["#e62129","#2fb14c"]},"legend":null}}},
   {"transform":[{"filter":"datum.treat=='VPA/H' && datum.diet=='CON'"}],"mark":{"type":"bar","stroke":"#000","strokeWidth":2,"fill":{"gradient":"linear","x1":0,"y1":0,"x2":0.32,"y2":1.184,"stops":[
{"offset":0.025,"color":"#e62129"},{"offset":0.025,"color":"#000"},{"offset":0.052,"color":"#000"},{"offset":0.052,"color":"#e62129"},
{"offset":0.102,"color":"#e62129"},{"offset":0.102,"color":"#000"},{"offset":0.129,"color":"#000"},{"offset":0.129,"color":"#e62129"},
{"offset":0.178,"color":"#e62129"},{"offset":0.178,"color":"#000"},{"offset":0.206,"color":"#000"},{"offset":0.206,"color":"#e62129"},
{"offset":0.255,"color":"#e62129"},{"offset":0.255,"color":"#000"},{"offset":0.283,"color":"#000"},{"offset":0.283,"color":"#e62129"},
{"offset":0.332,"color":"#e62129"},{"offset":0.332,"color":"#000"},{"offset":0.36,"color":"#000"},{"offset":0.36,"color":"#e62129"},
{"offset":0.409,"color":"#e62129"},{"offset":0.409,"color":"#000"},{"offset":0.437,"color":"#000"},{"offset":0.437,"color":"#e62129"},
{"offset":0.486,"color":"#e62129"},{"offset":0.486,"color":"#000"},{"offset":0.514,"color":"#000"},{"offset":0.514,"color":"#e62129"},
{"offset":0.563,"color":"#e62129"},{"offset":0.563,"color":"#000"},{"offset":0.591,"color":"#000"},{"offset":0.591,"color":"#e62129"},
{"offset":0.64,"color":"#e62129"},{"offset":0.64,"color":"#000"},{"offset":0.668,"color":"#000"},{"offset":0.668,"color":"#e62129"},
{"offset":0.717,"color":"#e62129"},{"offset":0.717,"color":"#000"},{"offset":0.745,"color":"#000"},{"offset":0.745,"color":"#e62129"},
{"offset":0.794,"color":"#e62129"},{"offset":0.794,"color":"#000"},{"offset":0.822,"color":"#000"},{"offset":0.822,"color":"#e62129"},
{"offset":0.871,"color":"#e62129"},{"offset":0.871,"color":"#000"},{"offset":0.898,"color":"#000"},{"offset":0.898,"color":"#e62129"},
{"offset":0.948,"color":"#e62129"},{"offset":0.948,"color":"#000"},{"offset":0.975,"color":"#000"},{"offset":0.975,"color":"#e62129"}]}},
    "encoding":{"x":{"field":"treat","type":"nominal","axis":{"orient":"bottom","title":null,"labels":false,"ticks":false}},"xOffset":{"field":"diet","type":"nominal"},"y":{"field":"m","type":"quantitative","axis":{"title":"% Methylation","values":[0,20,40,60,80]}}}},
   {"transform":[{"filter":"datum.treat=='VPA/H' && datum.diet=='HF'"}],"mark":{"type":"bar","stroke":"#000","strokeWidth":2,"fill":{"gradient":"linear","x1":1,"y1":0,"x2":0.769,"y2":1.154,"stops":[
{"offset":0.02,"color":"#2fb14c"},{"offset":0.02,"color":"#000"},{"offset":0.043,"color":"#000"},{"offset":0.043,"color":"#2fb14c"},
{"offset":0.083,"color":"#2fb14c"},{"offset":0.083,"color":"#000"},{"offset":0.105,"color":"#000"},{"offset":0.105,"color":"#2fb14c"},
{"offset":0.145,"color":"#2fb14c"},{"offset":0.145,"color":"#000"},{"offset":0.168,"color":"#000"},{"offset":0.168,"color":"#2fb14c"},
{"offset":0.208,"color":"#2fb14c"},{"offset":0.208,"color":"#000"},{"offset":0.23,"color":"#000"},{"offset":0.23,"color":"#2fb14c"},
{"offset":0.27,"color":"#2fb14c"},{"offset":0.27,"color":"#000"},{"offset":0.293,"color":"#000"},{"offset":0.293,"color":"#2fb14c"},
{"offset":0.333,"color":"#2fb14c"},{"offset":0.333,"color":"#000"},{"offset":0.355,"color":"#000"},{"offset":0.355,"color":"#2fb14c"},
{"offset":0.395,"color":"#2fb14c"},{"offset":0.395,"color":"#000"},{"offset":0.418,"color":"#000"},{"offset":0.418,"color":"#2fb14c"},
{"offset":0.458,"color":"#2fb14c"},{"offset":0.458,"color":"#000"},{"offset":0.48,"color":"#000"},{"offset":0.48,"color":"#2fb14c"},
{"offset":0.52,"color":"#2fb14c"},{"offset":0.52,"color":"#000"},{"offset":0.543,"color":"#000"},{"offset":0.543,"color":"#2fb14c"},
{"offset":0.583,"color":"#2fb14c"},{"offset":0.583,"color":"#000"},{"offset":0.605,"color":"#000"},{"offset":0.605,"color":"#2fb14c"},
{"offset":0.645,"color":"#2fb14c"},{"offset":0.645,"color":"#000"},{"offset":0.668,"color":"#000"},{"offset":0.668,"color":"#2fb14c"},
{"offset":0.708,"color":"#2fb14c"},{"offset":0.708,"color":"#000"},{"offset":0.73,"color":"#000"},{"offset":0.73,"color":"#2fb14c"},
{"offset":0.77,"color":"#2fb14c"},{"offset":0.77,"color":"#000"},{"offset":0.793,"color":"#000"},{"offset":0.793,"color":"#2fb14c"},
{"offset":0.833,"color":"#2fb14c"},{"offset":0.833,"color":"#000"},{"offset":0.855,"color":"#000"},{"offset":0.855,"color":"#2fb14c"},
{"offset":0.895,"color":"#2fb14c"},{"offset":0.895,"color":"#000"},{"offset":0.918,"color":"#000"},{"offset":0.918,"color":"#2fb14c"},
{"offset":0.958,"color":"#2fb14c"},{"offset":0.958,"color":"#000"},{"offset":0.98,"color":"#000"},{"offset":0.98,"color":"#2fb14c"}]}},
    "encoding":{"x":{"field":"treat","type":"nominal","axis":{"orient":"bottom","title":null,"labels":false,"ticks":false}},"xOffset":{"field":"diet","type":"nominal"},"y":{"field":"m","type":"quantitative","axis":{"title":"% Methylation","values":[0,20,40,60,80]}}}},
   {"mark":{"type":"rule","strokeWidth":2,"color":"#000"},"encoding":{"x":{"field":"treat","type":"nominal","axis":{"orient":"bottom","title":null,"labels":false,"ticks":false}},"xOffset":{"field":"diet","type":"nominal"},"y":{"field":"m","type":"quantitative","axis":{"title":"% Methylation","values":[0,20,40,60,80]}},"y2":{"field":"u"}}},
   {"mark":{"type":"tick","thickness":2,"size":11,"color":"#000"},"encoding":{"x":{"field":"treat","type":"nominal","axis":{"orient":"bottom","title":null,"labels":false,"ticks":false}},"xOffset":{"field":"diet","type":"nominal"},"y":{"field":"u","type":"quantitative","axis":{"title":"% Methylation","values":[0,20,40,60,80]}}}},
   {"transform":[{"filter":"datum.treat=='none'"}],"mark":{"type":"text","baseline":"top","dy":6,"dx":-1,"lineBreak":"\n","font":"DejaVu Serif","fontWeight":"bold","fontSize":11,"lineHeight":14,"color":"#000"},
    "encoding":{"x":{"field":"treat","type":"nominal","axis":{"orient":"bottom","title":null,"labels":false,"ticks":false}},"xOffset":{"field":"diet","type":"nominal"},"y":{"datum":0,"type":"quantitative","axis":{"title":"% Methylation","values":[0,20,40,60,80]}},"text":{"field":"label"}}},
   {"transform":[{"filter":"datum.treat=='VPA/H' && datum.diet=='CON'"}],"mark":{"type":"text","baseline":"top","dy":6,"dx":-5,"lineBreak":"\n","font":"DejaVu Serif","fontWeight":"bold","fontSize":11,"lineHeight":14,"color":"#000"},
    "encoding":{"x":{"field":"treat","type":"nominal","axis":{"orient":"bottom","title":null,"labels":false,"ticks":false}},"xOffset":{"field":"diet","type":"nominal"},"y":{"datum":0,"type":"quantitative","axis":{"title":"% Methylation","values":[0,20,40,60,80]}},"text":{"field":"label"}}},
   {"transform":[{"filter":"datum.treat=='VPA/H' && datum.diet=='HF'"}],"mark":{"type":"text","baseline":"top","dy":6,"dx":9,"lineBreak":"\n","font":"DejaVu Serif","fontWeight":"bold","fontSize":11,"lineHeight":14,"color":"#000"},
    "encoding":{"x":{"field":"treat","type":"nominal","axis":{"orient":"bottom","title":null,"labels":false,"ticks":false}},"xOffset":{"field":"diet","type":"nominal"},"y":{"datum":0,"type":"quantitative","axis":{"title":"% Methylation","values":[0,20,40,60,80]}},"text":{"field":"label"}}},
   {"data":{"name":"ebr"},"mark":{"type":"line","color":"#6fa5db","strokeWidth":2.5},"encoding":{"x":{"field":"treat","type":"nominal","axis":{"orient":"bottom","title":null,"labels":false,"ticks":false}},"xOffset":{"field":"diet","type":"nominal"},"y":{"field":"v","type":"quantitative","axis":{"title":"% Methylation","values":[0,20,40,60,80]}},"detail":{"field":"pair"},"order":{"field":"o"}}},
   {"data":{"name":"ep"},"mark":{"type":"text","baseline":"bottom","font":"Lato","fontSize":17,"dx":3,"color":"#000"},"encoding":{"x":{"field":"treat","type":"nominal","bandPosition":0,"axis":{"orient":"bottom","title":null,"labels":false,"ticks":false}},"y":{"field":"v","type":"quantitative","axis":{"title":"% Methylation","values":[0,20,40,60,80]}},"text":{"field":"p"}}}
  ]},
  {"mark":{"type":"text","opacity":0},"encoding":{"x":{"field":"treat","type":"nominal","axis":{"orient":"top","title":"Intron-2","labels":false,"ticks":false,"domain":false,"titlePadding":41,"titleFont":"Lato","titleFontSize":17,"titleFontWeight":"normal"}},"text":{"value":""}}}
  ]}
],"spacing":89,"bounds":"flush"}
]
}
